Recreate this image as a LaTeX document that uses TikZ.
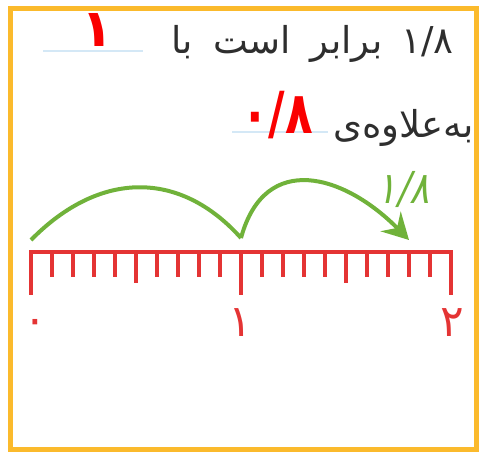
\documentclass[tikz,border=0pt]{standalone}
\usepackage{fontspec}
\usetikzlibrary{arrows.meta}
\TeXXeTstate=1
\newfontfamily\arabicfont[Script=Arabic]{DejaVu Sans}
\newfontfamily\arabicslant[Script=Arabic,FakeSlant=0.25]{DejaVu Sans}
\definecolor{framecol}{RGB}{251,186,44}
\definecolor{rulecol}{RGB}{228,52,52}
\definecolor{jumpcol}{RGB}{112,178,58}
\definecolor{blankcol}{RGB}{212,232,246}
\definecolor{anscol}{RGB}{250,0,0}

\begin{document}
\begin{tikzpicture}[
  x=1pt, y=-1pt,
  every node/.style={inner sep=0pt},
  %% printed question text
  txt/.style={font=\arabicfont\fontsize{37}{42}\selectfont, text=black!82},
  %% handwritten answers
  ans/.style={font=\arabicfont\bfseries\fontsize{#1}{#1}\selectfont, text=anscol},
  ans/.default=52,
  %% number-line labels
  num/.style={font=\arabicfont\fontsize{44}{48}\selectfont, text=rulecol},
  blank/.style={draw=blankcol, line width=2.5pt},
  tk/.style={draw=rulecol, line width=4pt},
  jump/.style={draw=jumpcol, line width=4pt,
    -{Stealth[length=26pt,width=28pt,inset=9pt]}},
]
\useasboundingbox (0,0) rectangle (479,452);

%%── frame ───────────────────────────────────────────────────────────────────
\draw[framecol, line width=5pt] (10.5,9) rectangle (476.5,449.5);

%%── question lines ──────────────────────────────────────────────────────────
\node[txt, anchor=base east] (q1) at (454,54)
  {\beginR\beginL ۱/۸\endL{}\hspace{19pt}برابر\hspace{20pt}است\hspace{20pt}با\endR};
\node[txt, anchor=base east] (q2) at (474,137)
  {\beginR بەعلاوەی\endR};

\draw[blank] (43,51) -- (143,51);
\draw[blank] (232,132) -- (328,132);

\node[ans] (a1) at (97,30) {۱};
\node[ans=58] (a2) at (277,115) {\scalebox{0.78}[1]{۰/۸}};

%%── number line ─────────────────────────────────────────────────────────────
\draw[tk] (29,252) -- (453,252);
\foreach \i in {0,...,20}{
  \coordinate (t\i) at ({31+21*\i},252);
  \draw[tk] (t\i) -- ++(0,25);
}
\foreach \i in {5,15} \draw[tk] (t\i) -- ++(0,31);
\foreach \i in {0,10,20} \draw[tk] (t\i) -- ++(0,43);

\node[num] (n0) at (35,327) {۰};
\node[num] (n1) at (240,323) {۱};
\node[num] (n2) at (452,323) {۲};

%%── jumps ───────────────────────────────────────────────────────────────────
\coordinate (j0) at (31,240);
\coordinate (j1) at (241,238);
\coordinate (j2) at (409,240);
\draw[jump, -] (j0) .. controls (100,170) and (180,170) .. (j1);
\draw[jump] (j1) .. controls (265,150) and (345,175) .. (j2);
\node[font=\arabicslant\fontsize{44}{48}\selectfont, text=jumpcol] (f)
  at (403,190) {\scalebox{0.85}[1]{۱/۸}};

\end{tikzpicture}
\end{document}
